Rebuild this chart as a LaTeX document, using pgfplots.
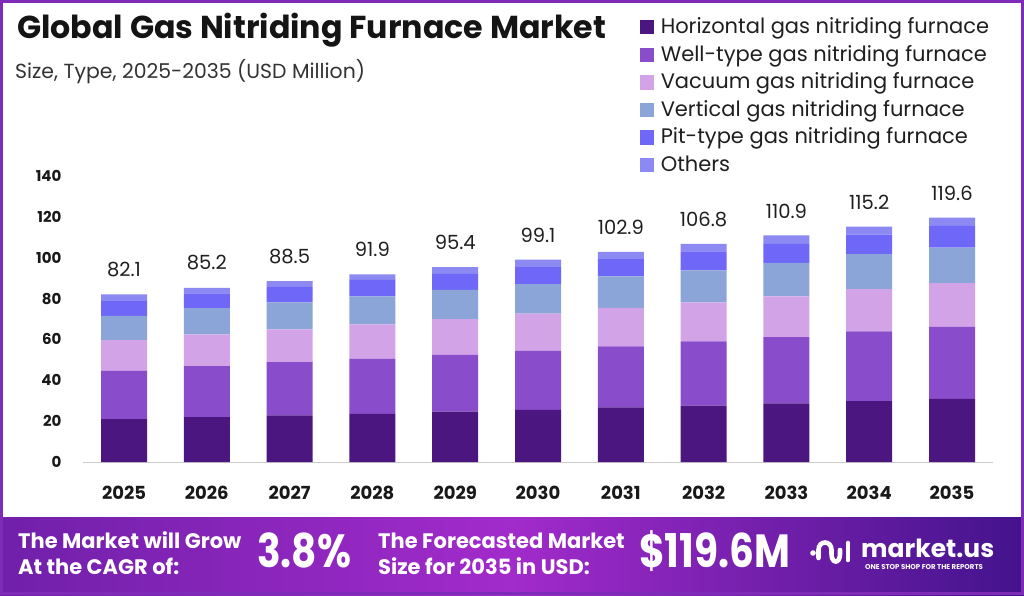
\documentclass[border=0pt]{standalone}
\usepackage{pgfplots}
\pgfplotsset{compat=1.18}
\usepackage{pgfplotstable}
\usepackage{fontspec}
\setmainfont{Poppins}
\newfontfamily\narrowbold[FakeStretch=0.84]{Poppins Bold}

\definecolor{cHor}{HTML}{4B1680}
\definecolor{cWell}{HTML}{894CCB}
\definecolor{cVac}{HTML}{D3A3E8}
\definecolor{cVert}{HTML}{8BA5D8}
\definecolor{cPit}{HTML}{6F67F8}
\definecolor{cOth}{HTML}{8D89F3}
\definecolor{frame}{HTML}{7E2CB8}
\definecolor{bandL}{HTML}{7020AA}
\definecolor{bandM}{HTML}{A22BCB}
\definecolor{bandR}{HTML}{43138C}

% market size by furnace type, USD million
\pgfplotstableread{
x year hor well vac vert pit oth total
0  2025 21.0 23.7 15.0 11.8 7.3  3.3 82.1
1  2026 22.0 24.9 15.6 12.8 7.3  2.6 85.2
2  2027 22.8 26.1 16.0 13.3 7.5  2.8 88.5
3  2028 23.6 26.9 16.9 13.7 8.0  2.8 91.9
4  2029 24.7 27.8 17.4 14.3 7.9  3.3 95.4
5  2030 25.5 29.0 18.1 14.5 8.3  3.7 99.1
6  2031 26.8 29.8 18.8 15.5 8.4  3.6 102.9
7  2032 27.6 31.4 19.2 15.6 9.3  3.7 106.8
8  2033 28.7 32.4 20.0 16.4 9.3  4.1 110.9
9  2034 29.8 34.1 20.7 17.1 9.6  3.9 115.2
10 2035 30.9 35.2 21.5 17.4 10.6 4.0 119.6
}\data

\begin{document}
\begin{tikzpicture}[x=1pt,y=1pt]
% page background and frame
\fill[white] (0,0) rectangle (1024,595);
% footer band
\shade[left color=bandL, right color=bandR, middle color=bandM] (0,0) rectangle (1024,78);
\draw[frame, line width=3pt] (1.5,1.5) rectangle (1022.5,593.5);

% titles
\node[anchor=base west, inner sep=0pt, text=black!92] at (17,556)
  {\bfseries\fontsize{31.7}{31.7}\selectfont Global Gas Nitriding Furnace Market};
\node[anchor=base west, inner sep=0pt, text=black!80] at (15,516)
  {\fontsize{20.4}{20.4}\selectfont Size, Type, 2025-2035 (USD Million)};

\begin{axis}[
  at={(82.6pt,133pt)}, anchor=south west,
  scale only axis, width=910.8pt, height=286pt,
  ybar stacked, bar width=46pt,
  xmin=-0.5, xmax=10.5, ymin=0, ymax=140,
  xtick=data,
  xticklabels={2025,2026,2027,2028,2029,2030,2031,2032,2033,2034,2035},
  ytick={0,20,...,140},
  axis x line*=bottom, axis y line*=left,
  x axis line style={draw=black!20, line width=1pt},
  y axis line style={draw=none},
  major tick length=0pt,
  clip=false,
  /pgf/number format/assume math mode=true,
  xticklabel style={anchor=base, yshift=-37.5pt, inner sep=0pt,
    font=\bfseries\fontsize{18}{18}\selectfont, text=black!90},
  yticklabel style={anchor=east, xshift=-21pt, inner sep=0pt,
    font=\bfseries\fontsize{15}{15}\selectfont, text=black!90},
  every axis plot post/.append style={draw=none,
    legend image code/.code={\fill[##1] (0pt,-1pt) rectangle (14pt,13.5pt);}},
  legend cell align=left,
  legend style={at={(0.6115,1.5475)}, anchor=north west, draw=none, fill=none,
    font=\fontsize{21}{21}\selectfont, text=black!88,
    inner sep=0pt, row sep=0pt, column sep=7pt,
    nodes={inner sep=0pt, text height=13.8pt, text depth=13.8pt}},
]
\addplot[fill=cHor]  table[x=x, y=hor]  {\data};
\addplot[fill=cWell] table[x=x, y=well] {\data};
\addplot[fill=cVac]  table[x=x, y=vac]  {\data};
\addplot[fill=cVert] table[x=x, y=vert] {\data};
\addplot[fill=cPit]  table[x=x, y=pit]  {\data};
\addplot[fill=cOth,
  point meta=explicit,
  nodes near coords={\pgfmathprintnumber[fixed, precision=1, assume math mode=true]{\pgfplotspointmeta}},
  every node near coord/.append style={anchor=base, yshift=21pt, inner sep=0pt,
    font=\fontsize{19.5}{19.5}\selectfont, text=black!88}]
  table[x=x, y=oth, meta=total] {\data};
\legend{Horizontal gas nitriding furnace, Well-type gas nitriding furnace,
  Vacuum gas nitriding furnace, Vertical gas nitriding furnace,
  Pit-type gas nitriding furnace, Others}
\end{axis}

% footer texts
\node[anchor=base west, inner sep=0pt, text=white] at (18,47)
  {\bfseries\fontsize{21}{21}\selectfont The Market will Grow};
\node[anchor=base west, inner sep=0pt, text=white] at (18,21)
  {\bfseries\fontsize{21}{21}\selectfont At the CAGR of:};
\node[anchor=base west, inner sep=0pt, text=white] at (257,28)
  {\narrowbold\fontsize{46.5}{46.5}\selectfont 3.8\%};
\node[anchor=base west, inner sep=0pt, text=white] at (378,47)
  {\bfseries\fontsize{21}{21}\selectfont The Forecasted Market};
\node[anchor=base west, inner sep=0pt, text=white] at (378,21)
  {\bfseries\fontsize{21}{21}\selectfont Size for 2035 in USD:};
\node[anchor=base west, inner sep=0pt, text=white] at (639,28)
  {\narrowbold\fontsize{46.5}{46.5}\selectfont \$119.6M};

% market.us logo
\begin{scope}[white, line width=4.6pt, line cap=round]
  \fill (813,42) circle (2.8pt);
  \draw (818.5,37) -- (818.5,45)
        .. controls (818.5,55) and (831.5,55) .. (831.5,45) -- (831.5,41)
        .. controls (831.5,31) and (840,31) .. (840,41) -- (840,45);
  \draw (848,35) -- (848,52);
\end{scope}
\node[anchor=base west, inner sep=0pt, text=white] at (861,38)
  {\bfseries\fontsize{25}{25}\selectfont market.us};
\node[anchor=base west, inner sep=0pt, text=white] at (865,26)
  {\bfseries\fontsize{7}{7}\selectfont ONE STOP SHOP FOR THE REPORTS};
\end{tikzpicture}
\end{document}
